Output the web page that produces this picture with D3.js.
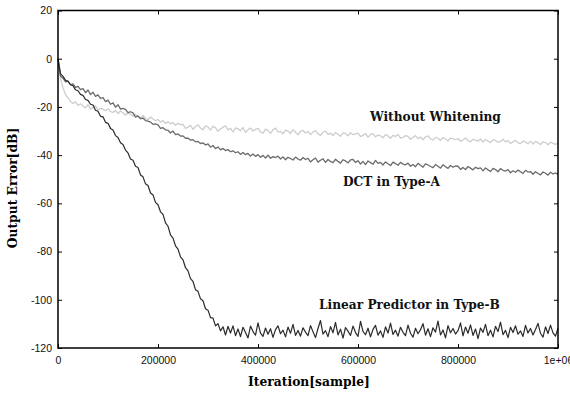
<!DOCTYPE html>
<meta charset="utf-8">
<title>Output Error</title>
<body style="margin:0;background:#fff">
<script src="https://d3js.org/d3.v7.min.js"></script>
<div id="chart"></div>
<script>

// iteration grid, one sample every 5000 iterations
var iterations = d3.range(0, 1000001, 5000);

var xTicks = [0, 200000, 400000, 600000, 800000, 1000000];
var xTickLabels = ["0", "200000", "400000", "600000", "800000", "1e+06"];
var yTicks = [20, 0, -20, -40, -60, -80, -100, -120];

// Without Whitening
var noWhite = [
  0, -8.3, -12.1, -14.9, -16.2, -17.8, -18.6, -17.9, -19.4, -18.7,
  -19.6, -20.4, -19.1, -20.8, -20.2, -19.5, -21.3, -20.6, -20.9, -21.6,
  -20.8, -21.9, -22.3, -21.4, -22.8, -21.7, -22.5, -23.4, -22.6, -23.1,
  -23.8, -23.0, -24.1, -24.6, -23.5, -24.8, -25.3, -24.2, -25.0, -25.7,
  -25.2, -26.3, -25.6, -26.9, -26.1, -27.0, -26.5, -27.6, -26.8, -27.3,
  -27.2, -28.9, -28.4, -27.6, -29.3, -28.1, -27.4, -28.8, -29.5, -27.9,
  -28.3, -29.6, -28.0, -28.7, -30.1, -29.2, -28.4, -27.8, -29.5, -28.9,
  -30.4, -28.7, -29.1, -29.9, -28.5, -30.6, -29.4, -28.8, -30.0, -29.3,
  -28.9, -30.3, -30.9, -29.2, -29.7, -31.0, -29.5, -28.8, -30.4, -30.1,
  -31.2, -29.6, -30.0, -31.0, -29.4, -30.5, -31.6, -30.1, -29.7, -30.8,
  -30.2, -31.5, -30.4, -29.8, -31.2, -31.8, -30.5, -30.0, -31.4, -30.9,
  -31.9, -30.6, -31.3, -32.2, -30.8, -31.0, -32.0, -30.7, -31.5, -31.2,
  -30.9, -32.3, -31.8, -31.0, -32.6, -31.4, -31.1, -32.4, -31.7, -32.0,
  -32.8, -31.5, -32.0, -33.0, -31.8, -32.3, -31.4, -32.9, -32.6, -31.9,
  -32.2, -33.4, -32.7, -31.9, -33.1, -32.5, -33.6, -32.4, -32.0, -33.2,
  -33.8, -32.6, -33.0, -33.9, -32.7, -33.3, -34.1, -32.9, -33.2, -33.6,
  -33.1, -34.3, -33.7, -32.9, -34.0, -34.5, -33.4, -33.8, -34.2, -33.3,
  -34.6, -33.5, -34.1, -34.8, -33.6, -33.9, -34.7, -34.3, -33.4, -34.5,
  -34.0, -35.1, -34.5, -33.8, -34.9, -35.2, -34.1, -34.6, -35.3, -34.2,
  -35.4, -34.3, -34.9, -35.6, -34.5, -34.8, -35.7, -34.6, -35.1, -35.5,
  -35.0
];

// DCT in Type-A
var dct = [
  0, -7.2, -8.1, -9.6, -9.3, -10.8, -10.4, -11.9, -11.5, -12.8,
  -12.4, -14.1, -13.0, -14.9, -13.9, -15.6, -15.0, -16.5, -16.1, -17.8,
  -17.2, -18.9, -18.3, -20.1, -19.1, -20.9, -20.6, -21.0, -22.4, -22.0,
  -22.5, -24.2, -23.7, -24.9, -24.6, -25.7, -25.9, -26.3, -27.2, -27.0,
  -27.4, -28.9, -28.6, -29.5, -29.7, -30.8, -30.0, -31.5, -31.2, -32.1,
  -32.0, -33.0, -32.9, -33.8, -33.6, -34.5, -34.3, -35.2, -34.9, -35.8,
  -35.3, -36.7, -36.0, -37.3, -36.6, -37.8, -37.2, -38.1, -37.7, -38.6,
  -38.2, -39.0, -38.6, -39.7, -38.9, -39.8, -39.3, -40.4, -39.5, -40.5,
  -39.8, -40.9, -40.1, -41.2, -40.0, -41.3, -40.6, -41.0, -40.4, -41.6,
  -40.7, -41.9, -40.9, -41.4, -42.0, -40.8, -41.6, -42.1, -41.0, -41.8,
  -41.3, -42.8, -41.9, -41.2, -42.9, -42.1, -41.5, -43.0, -41.8, -42.6,
  -43.1, -41.7, -42.6, -43.3, -41.9, -42.4, -43.2, -42.0, -41.8, -43.0,
  -42.3, -43.7, -42.6, -43.9, -42.4, -43.1, -43.8, -42.2, -43.4, -43.0,
  -44.1, -42.8, -43.6, -44.3, -42.9, -43.5, -44.2, -43.0, -43.7, -44.0,
  -43.3, -44.6, -43.9, -44.8, -43.4, -44.2, -45.0, -43.6, -44.1, -44.7,
  -45.2, -43.9, -44.6, -45.4, -44.0, -44.8, -45.5, -44.3, -45.0, -44.5,
  -44.6, -45.9, -45.1, -46.0, -44.7, -45.4, -46.1, -45.0, -45.6, -45.3,
  -46.5, -45.3, -46.1, -46.8, -45.5, -46.0, -46.9, -45.6, -46.3, -46.6,
  -46.0, -47.3, -46.5, -47.1, -46.2, -46.9, -47.6, -46.3, -47.0, -46.8,
  -47.9, -46.9, -47.6, -48.2, -47.0, -47.5, -48.3, -47.1, -47.8, -47.4,
  -48.0
];

// Linear Predictor in Type-B
var linPred = [
  0, -6.2, -7.3, -8.9, -9.4, -10.8, -11.2, -12.9, -13.3, -14.8,
  -15.2, -16.9, -17.3, -18.9, -19.2, -21.4, -21.8, -23.9, -24.1, -26.4,
  -26.8, -28.9, -29.6, -31.9, -32.7, -34.9, -35.6, -37.9, -39.1, -41.6,
  -42.1, -44.6, -45.1, -48.2, -49.0, -51.9, -52.6, -55.7, -56.5, -59.6,
  -60.6, -63.5, -64.6, -68.1, -69.5, -73.1, -74.4, -77.6, -79.0, -82.2,
  -83.4, -86.7, -88.0, -91.2, -92.4, -95.8, -96.5, -99.6, -100.4, -103.7,
  -104.3, -107.4, -107.6, -110.8, -109.9, -112.9, -111.2, -114.6, -111.0, -113.8,
  -110.8, -114.9, -112.1, -115.3, -111.4, -113.6, -115.8, -110.9, -113.2, -114.7,
  -109.6, -113.8, -115.2, -111.7, -114.3, -112.0, -115.6, -112.4, -110.8, -114.1,
  -112.6, -115.4, -111.3, -113.9, -110.2, -114.8, -112.7, -115.1, -111.6, -113.4,
  -114.9, -110.7, -113.3, -115.7, -111.9, -108.6, -114.2, -112.8, -115.3, -111.1,
  -113.7, -109.4, -114.6, -112.2, -115.9, -111.5, -113.0, -114.8, -110.9, -113.6,
  -115.2, -108.9, -113.1, -114.5, -111.8, -115.4, -112.3, -110.6, -114.7, -112.9,
  -115.6, -111.2, -113.8, -109.7, -114.4, -112.6, -115.1, -111.4, -113.5, -114.9,
  -110.5, -113.9, -115.5, -111.8, -114.1, -112.4, -109.9, -114.7, -112.0, -115.3,
  -111.6, -113.4, -108.8, -114.6, -112.5, -115.8, -110.7, -113.7, -111.9, -114.2,
  -112.8, -109.6, -115.0, -111.3, -113.9, -110.4, -114.8, -112.1, -116.1, -111.7,
  -113.5, -110.2, -114.9, -112.6, -115.4, -111.0, -113.2, -109.3, -114.5, -112.7,
  -115.7, -111.4, -113.6, -110.8, -114.3, -112.9, -115.2, -110.6, -113.8, -111.9,
  -114.6, -112.3, -109.8, -113.9, -115.5, -111.2, -114.0, -110.5, -113.7, -115.1,
  -111.8
];

var series = [
  {name: "Without Whitening", values: noWhite, color: "#cdcdcd", width: 1.3},
  {name: "DCT in Type-A", values: dct, color: "#6b6b6b", width: 1.3},
  {name: "Linear Predictor in Type-B", values: linPred, color: "#2b2b2b", width: 1.2}
];

var W = 570, H = 396;
var mLeft = 58, mRight = 558, mTop = 10.5, mBottom = 348;

var svg = d3.select("#chart")
  .append("svg")
    .attr("width", W)
    .attr("height", H);

var x = d3.scaleLinear()
  .domain([0, 1000000])
  .range([mLeft, mRight]);

var y = d3.scaleLinear()
  .domain([-120, 20])
  .range([mBottom, mTop]);

// curves
var line = d3.line()
  .x(function (d, i) { return x(iterations[i]); })
  .y(function (d) { return y(d); });

svg.append("g")
  .selectAll("path")
  .data(series)
  .enter()
  .append("path")
    .attr("d", function (d) { return line(d.values); })
    .attr("fill", "none")
    .attr("stroke", function (d) { return d.color; })
    .attr("stroke-width", function (d) { return d.width; })
    .attr("stroke-linejoin", "round");

// axes, ticks pointing inward on all four sides
var fontSans = "'Liberation Sans', Arial, sans-serif";

svg.append("g")
  .attr("transform", "translate(0," + mBottom + ")")
  .call(d3.axisBottom(x).tickValues(xTicks).tickSizeInner(-4).tickSizeOuter(0)
    .tickPadding(9).tickFormat(function (d, i) { return xTickLabels[i]; }))
  .call(function (g) {
    g.select(".domain").remove();
    g.selectAll("text").attr("font-family", fontSans).attr("font-size", 10.5).attr("fill", "#111");
  });

svg.append("g")
  .attr("transform", "translate(0," + mTop + ")")
  .call(d3.axisTop(x).tickValues(xTicks).tickSizeInner(-4).tickSizeOuter(0).tickFormat(""))
  .call(function (g) { g.select(".domain").remove(); });

svg.append("g")
  .attr("transform", "translate(" + mLeft + ",0)")
  .call(d3.axisLeft(y).tickValues(yTicks).tickSizeInner(-4).tickSizeOuter(0).tickPadding(6)
    .tickFormat(function (d) { return String(d); }))
  .call(function (g) {
    g.select(".domain").remove();
    g.selectAll("text").attr("font-family", fontSans).attr("font-size", 10.5).attr("fill", "#111");
  });

svg.append("g")
  .attr("transform", "translate(" + mRight + ",0)")
  .call(d3.axisRight(y).tickValues(yTicks).tickSizeInner(-4).tickSizeOuter(0).tickFormat(""))
  .call(function (g) { g.select(".domain").remove(); });

svg.append("rect")
  .attr("x", mLeft)
  .attr("y", mTop)
  .attr("width", mRight - mLeft)
  .attr("height", mBottom - mTop)
  .attr("fill", "none")
  .attr("stroke", "#000")
  .attr("stroke-width", 1.5);

// axis titles
var fontSerif = "'DejaVu Serif', 'Liberation Serif', serif";

svg.append("text")
  .attr("x", 309)
  .attr("y", 386)
  .attr("text-anchor", "middle")
  .attr("font-family", fontSerif)
  .attr("font-weight", "bold")
  .attr("font-size", 12.3)
  .text("Iteration[sample]");

svg.append("text")
  .attr("transform", "translate(17,188) rotate(-90)")
  .attr("text-anchor", "middle")
  .attr("font-family", fontSerif)
  .attr("font-weight", "bold")
  .attr("font-size", 12.3)
  .text("Output Error[dB]");

// curve labels
var labels = [
  {text: "Without Whitening", x: 370, y: 121},
  {text: "DCT in Type-A", x: 343, y: 186},
  {text: "Linear Predictor in Type-B", x: 319, y: 309}
];

svg.append("g")
  .selectAll("text")
  .data(labels)
  .enter()
  .append("text")
    .attr("x", function (d) { return d.x; })
    .attr("y", function (d) { return d.y; })
    .attr("font-family", fontSerif)
    .attr("font-weight", "bold")
    .attr("font-size", 12.2)
    .attr("fill", "#111")
    .text(function (d) { return d.text; });

</script>
